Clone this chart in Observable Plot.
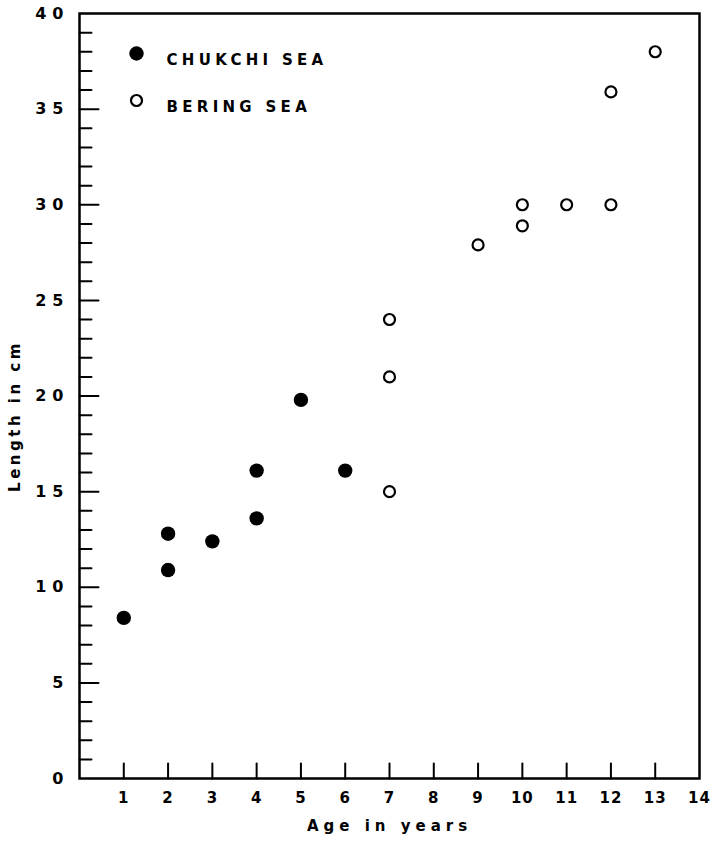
<!DOCTYPE html>
<html>
<head>
<meta charset="utf-8">
<script src="https://cdn.jsdelivr.net/npm/d3@7"></script>
<script src="https://cdn.jsdelivr.net/npm/@observablehq/plot@0.6"></script>
<style>
  html, body { margin: 0; padding: 0; background: #fff; }
</style>
</head>
<body>
<div id="chart"></div>
<script>
// Chukchi Sea (filled circles)
const chukchiAge = [1, 2, 2, 3, 4, 4, 5, 6];
const chukchiLength = [8.4, 12.8, 10.9, 12.4, 16.1, 13.6, 19.8, 16.1];
// Bering Sea (open circles)
const beringAge = [7, 7, 7, 9, 10, 10, 11, 12, 12, 13];
const beringLength = [24, 21, 15, 27.9, 30, 28.9, 30, 35.9, 30, 38];

const xTicks = [1, 2, 3, 4, 5, 6, 7, 8, 9, 10, 11, 12, 13];
const xLabels = [1, 2, 3, 4, 5, 6, 7, 8, 9, 10, 11, 12, 13, 14];
const yLabels = [0, 5, 10, 15, 20, 25, 30, 35, 40];
const yTicksMajor = [5, 10, 15, 20, 25, 30, 35];
const yTicksMinor = d3.range(1, 40).filter(v => v % 5 !== 0);
const legendLabels = ["CHUKCHI SEA", "BERING SEA"];
const xTitle = "Age in years";
const yTitle = "Length in cm";

const chukchi = chukchiAge.map((a, i) => ({age: a, length: chukchiLength[i]}));
const bering = beringAge.map((a, i) => ({age: a, length: beringLength[i]}));

const lineShape = {draw(context, l) { context.moveTo(0, 0); context.lineTo(0, -l); }};
const font = "'DejaVu Sans', sans-serif";

const chart = Plot.plot({
  width: 710,
  height: 842,
  marginLeft: 79,
  marginRight: 11,
  marginTop: 13,
  marginBottom: 64,
  x: {domain: [0, 14]},
  y: {domain: [0, 40]},
  style: {fontFamily: font, background: "#fff", color: "#000"},
  marks: [
    Plot.axisX(xLabels, {tickSize: 0, tickPadding: 14, fontSize: 15, fontWeight: "bold", label: null}),
    Plot.axisY(yLabels, {tickSize: 0, tickPadding: 10, fontSize: 16, fontWeight: "bold", label: null}),
    // inward ticks
    Plot.vector(xTicks, {x: d => d, y: 0, length: 15, rotate: 0, anchor: "start", shape: lineShape, strokeWidth: 2, stroke: "#000"}),
    Plot.vector(yTicksMajor, {x: 0, y: d => d, length: 19, rotate: 90, anchor: "start", shape: lineShape, strokeWidth: 2, stroke: "#000"}),
    Plot.vector(yTicksMinor, {x: 0, y: d => d, length: 12, rotate: 90, anchor: "start", shape: lineShape, strokeWidth: 2, stroke: "#000"}),
    Plot.frame({stroke: "#000", strokeWidth: 2.5}),
    // data
    Plot.dot(chukchi, {x: "age", y: "length", r: 7.2, fill: "#000", stroke: "none"}),
    Plot.dot(bering, {x: "age", y: "length", r: 5.5, fill: "#fff", stroke: "#000", strokeWidth: 2.2}),
    // legend
    Plot.dot([legendLabels[0]], {frameAnchor: "top-left", dx: 57, dy: 40, r: 7.2, fill: "#000", stroke: "none"}),
    Plot.dot([legendLabels[1]], {frameAnchor: "top-left", dx: 57, dy: 87, r: 5.5, fill: "#fff", stroke: "#000", strokeWidth: 2.2}),
    Plot.text([legendLabels[0]], {text: d => d, frameAnchor: "top-left", dx: 87, dy: 41, textAnchor: "start", fontSize: 15, fontWeight: "bold", fill: "#000"}),
    Plot.text([legendLabels[1]], {text: d => d, frameAnchor: "top-left", dx: 87, dy: 88, textAnchor: "start", fontSize: 15, fontWeight: "bold", fill: "#000"}),
    // axis titles
    Plot.text([xTitle], {text: d => d, frameAnchor: "bottom", dy: 52, textAnchor: "middle", fontSize: 15, fontWeight: "bold", fill: "#000"}),
    Plot.text([yTitle], {text: d => d, frameAnchor: "left", dx: -64, dy: 20, rotate: -90, textAnchor: "middle", fontSize: 15, fontWeight: "bold", fill: "#000"})
  ]
});
const svg = d3.select(chart);
svg.selectAll('g[aria-label="x-axis tick label"]').style("letter-spacing", "1px");
svg.selectAll('g[aria-label="y-axis tick label"]').style("letter-spacing", "6px");
svg.selectAll("text").each(function () {
  const t = this.textContent;
  if (legendLabels.includes(t)) this.style.letterSpacing = "4.3px";
  else if (t === xTitle) this.style.letterSpacing = "5px";
  else if (t === yTitle) this.style.letterSpacing = "3.5px";
});
document.getElementById("chart").append(chart);
</script>
</body>
</html>
